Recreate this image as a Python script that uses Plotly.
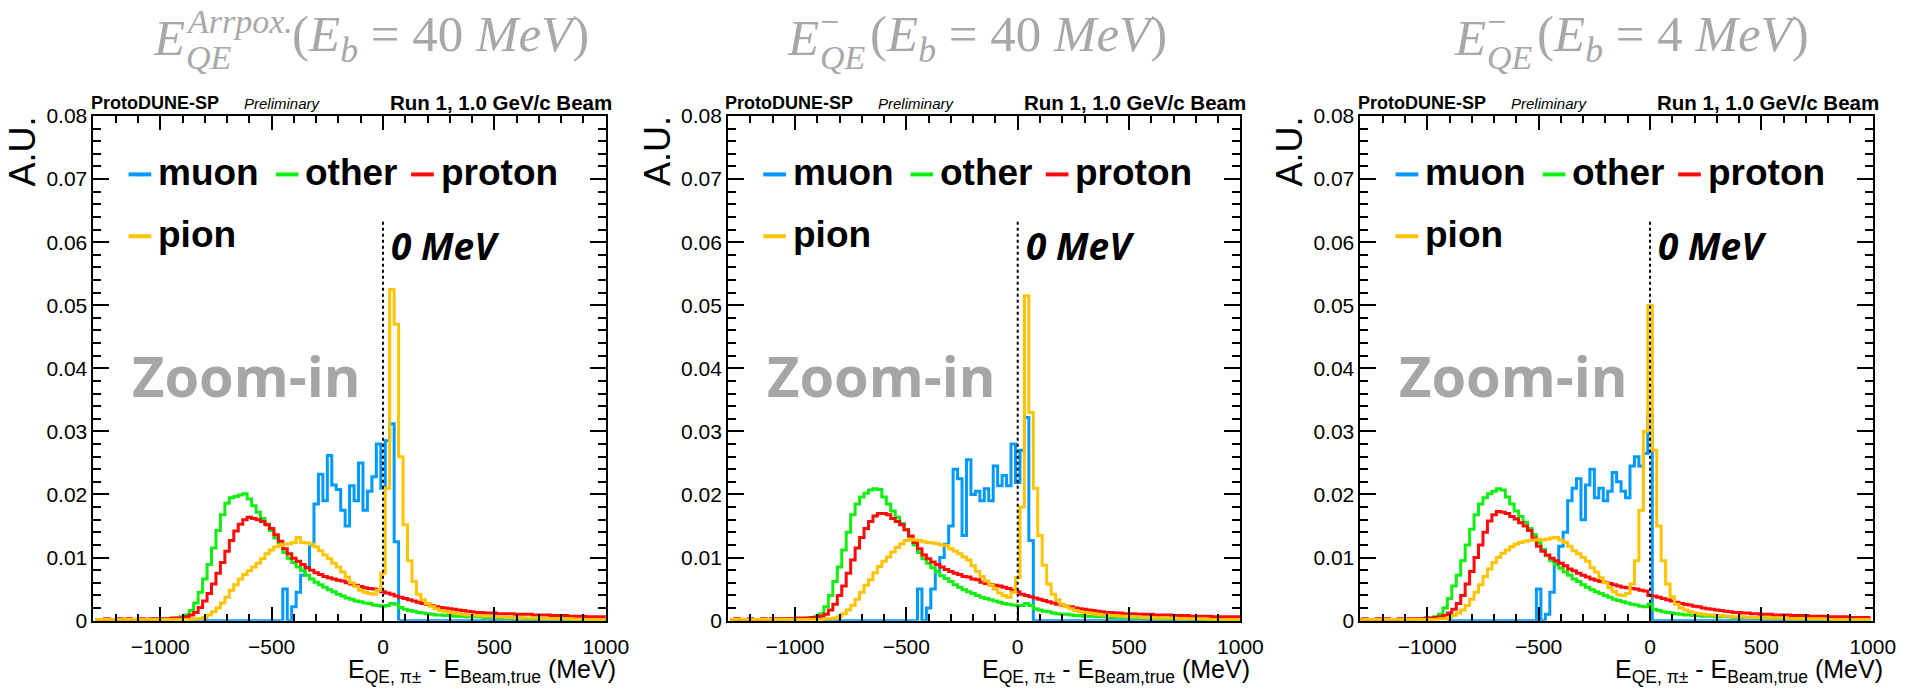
import plotly.graph_objects as go

# ---------------- data (20 MeV bins) ----------------
BIN_WIDTH = 20
N_BINS = 115
bin_starts = [-1290, -1290, -1310]          # left edge of first bin, per panel
X_RANGE = [-1300, 1000]
Y_RANGE = [0, 0.08]
ZERO_LINE_TOP = 0.0636

series_names = ["muon", "other", "proton", "pion"]
series_colors = {"muon": "#0099ff", "other": "#11ee11", "proton": "#ff0a0a", "pion": "#ffc400"}

N = None
# ---- panel 1 : E_QE^Approx (Eb = 40 MeV)
p1_muon = ([N] * 10 + [N] * 10 +
           [N, 0, 0, 0, 0, 0, 0, 0, 0, 0] +
           [0] * 10 +
           [0, 0, .0050, 0, .0022, .0045, .0072, .0085, .0120, .0185] +
           [.0232, .0190, .0262, .0215, .0208, .0175, .0150, .0214, .0190, .0250] +
           [.0175, .0205, .0228, .0280, .0210, .0285, .0312, .0125, 0, 0] +
           [0] * 10 + [0] * 10 + [0] * 10 + [0] * 10 + [0] * 5)
p1_other = ([.0002] * 10 +
            [.0002, .0002, .0002, .0003, .0003, .0003, .0003, .0003, .0004, .0006] +
            [.0009, .0016, .0028, .0045, .0066, .0089, .0115, .0143, .0168, .0186] +
            [.0195, .0197, .0199, .0201, .0193, .0182, .0172, .0162, .0153, .0143] +
            [.0131, .0120, .0108, .0099, .0092, .0085, .0079, .0072, .0066, .0061] +
            [.0057, .0053, .0049, .0046, .0042, .0039, .0036, .0034, .0031, .0030] +
            [.0028, .0027, .0025, .0024, .0023, .0024, .0027, .0026, .0021, .0018] +
            [.0016, .0015, .0013, .0012, .0011, .0010, .0009, .0009, .0008, .0008] +
            [.0007, .0007, .0007, .0006, .0006, .0006, .0006, .0005, .0005, .0005] +
            [.0005, .0004, .0004, .0004, .0004, .0004, .0003, .0003, .0003, .0003] +
            [.0003, .0003, .0003, .0003, .0003, .0003, .0002, .0002, .0002, .0002] +
            [.0002] * 5)
p1_proton = ([.0002, .0002, .0003, .0002, .0002, .0003, .0002, .0003, .0002, .0002] +
             [.0003, .0002, .0003, .0003, .0003, .0003, .0003, .0004, .0004, .0004] +
             [.0006, .0009, .0013, .0021, .0031, .0043, .0058, .0075, .0092, .0110] +
             [.0127, .0142, .0153, .0160, .0164, .0162, .0160, .0157, .0152, .0146] +
             [.0136, .0126, .0114, .0106, .0099, .0094, .0089, .0084, .0080, .0076] +
             [.0073, .0070, .0068, .0066, .0064, .0063, .0060, .0058, .0056, .0054] +
             [.0052, .0051, .0050, .0048, .0046, .0044, .0042, .0039, .0037, .0035] +
             [.0033, .0031, .0029, .0027, .0026, .0024, .0022, .0021, .0020, .0019] +
             [.0018, .0017, .0016, .0015, .0014, .0013, .0013, .0012, .0012, .0012] +
             [.0011, .0011, .0011, .0011, .0010, .0010, .0010, .0010, .0009, .0009] +
             [.0009, .0009, .0008, .0008, .0008, .0008, .0007, .0007, .0007, .0007] +
             [.0006] * 5)
p1_pion = ([.0002] * 10 + [.0002] * 10 +
           [.0002, .0002, .0003, .0003, .0005, .0009, .0014, .0020, .0028, .0037] +
           [.0048, .0057, .0066, .0073, .0079, .0085, .0091, .0098, .0106, .0112] +
           [.0117, .0119, .0121, .0122, .0124, .0132, .0124, .0123, .0121, .0117] +
           [.0111, .0104, .0098, .0091, .0085, .0077, .0069, .0060, .0054, .0048] +
           [.0045, .0043, .0042, .0048, .0075, .0210, .0525, .0470, .0260, .0152] +
           [.0095, .0062, .0042, .0033, .0027, .0023, .0019, .0016, .0015, .0013] +
           [.0012, .0011, .0010, .0009, .0009, .0008, .0008, .0007, .0007, .0006] +
           [.0006, .0006, .0005, .0005, .0005, .0004, .0004, .0004, .0004, .0004] +
           [.0003] * 7 + [.0002] * 3 +
           [.0002] * 5)

# ---- panel 2 : E_QE^- (Eb = 40 MeV)
p2_muon = ([N] * 10 + [N] * 10 +
           [N, 0, 0, 0, 0, 0, 0, 0, 0, 0] +
           [0] * 10 +
           [0, 0, .0050, 0, .0020, .0050, .0078, .0100, .0121, .0150] +
           [.0240, .0225, .0135, .0255, .0200, .0205, .0190, .0209, .0190, .0245] +
           [.0214, .0230, .0214, .0280, .0219, .0270, .0322, .0127, 0, 0] +
           [0] * 10 + [0] * 10 + [0] * 10 + [0] * 10 + [0] * 5)
p2_other = ([.0002] * 10 +
            [.0002, .0002, .0002, .0003, .0003, .0003, .0003, .0004, .0005, .0007] +
            [.0011, .0022, .0040, .0062, .0085, .0112, .0140, .0168, .0185, .0196] +
            [.0202, .0207, .0209, .0208, .0196, .0185, .0174, .0164, .0154, .0144] +
            [.0133, .0120, .0108, .0098, .0091, .0084, .0077, .0071, .0067, .0062] +
            [.0057, .0053, .0049, .0046, .0043, .0040, .0037, .0035, .0033, .0031] +
            [.0029, .0027, .0026, .0025, .0024, .0024, .0027, .0024, .0019, .0017] +
            [.0015, .0014, .0012, .0011, .0010, .0010, .0009, .0008, .0008, .0007] +
            [.0007, .0007, .0006, .0006, .0006, .0005, .0005, .0005, .0005, .0005] +
            [.0004] * 6 + [.0003] * 4 +
            [.0003] * 6 + [.0002] * 4 +
            [.0002] * 5)
p2_proton = ([.0002, .0003, .0002, .0002, .0003, .0002, .0002, .0003, .0002, .0003] +
             [.0003, .0003, .0003, .0003, .0003, .0004, .0004, .0004, .0005, .0005] +
             [.0007, .0010, .0017, .0026, .0040, .0055, .0075, .0096, .0115, .0132] +
             [.0146, .0157, .0166, .0170, .0170, .0168, .0162, .0157, .0152, .0144] +
             [.0134, .0124, .0114, .0104, .0098, .0093, .0089, .0085, .0081, .0078] +
             [.0075, .0073, .0070, .0069, .0066, .0065, .0061, .0059, .0057, .0056] +
             [.0055, .0053, .0051, .0048, .0046, .0042, .0040, .0038, .0036, .0034] +
             [.0032, .0030, .0028, .0026, .0025, .0023, .0022, .0020, .0019, .0018] +
             [.0017, .0016, .0015, .0014, .0013, .0013, .0012, .0012, .0011, .0011] +
             [.0011, .0010, .0010, .0010, .0010, .0009, .0009, .0009, .0009, .0008] +
             [.0008, .0008, .0008, .0007, .0007, .0007, .0007, .0007, .0006, .0006] +
             [.0006] * 5)
p2_pion = ([.0002] * 10 + [.0002] * 10 +
           [.0002, .0003, .0003, .0004, .0006, .0011, .0017, .0024, .0034, .0045] +
           [.0056, .0065, .0076, .0086, .0094, .0101, .0109, .0116, .0122, .0127] +
           [.0129, .0128, .0127, .0125, .0124, .0123, .0122, .0120, .0119, .0114] +
           [.0110, .0106, .0101, .0096, .0087, .0078, .0070, .0063, .0056, .0050] +
           [.0044, .0040, .0037, .0045, .0068, .0180, .0515, .0330, .0210, .0135] +
           [.0088, .0058, .0042, .0033, .0026, .0022, .0019, .0016, .0014, .0013] +
           [.0012, .0011, .0010, .0009, .0009, .0008, .0008, .0007, .0007, .0006] +
           [.0006, .0006, .0005, .0005, .0005, .0004, .0004, .0004, .0004, .0004] +
           [.0003] * 7 + [.0002] * 3 +
           [.0002] * 5)

# ---- panel 3 : E_QE^- (Eb = 4 MeV)
p3_muon = ([N] * 10 + [N] * 10 +
           [0] * 10 +
           [0] * 10 +
           [.0050, 0, .0010, .0045, .0090, .0118, .0140, .0190, .0210, .0225] +
           [.0160, .0215, .0240, .0195, .0210, .0190, .0205, .0235, .0220, .0205] +
           [.0195, .0245, .0260, .0245, .0265, .0325, 0, 0, 0, 0] +
           [0] * 10 + [0] * 10 + [0] * 10 + [0] * 10 + [0] * 5)
p3_other = ([.0002] * 10 +
            [.0002, .0002, .0002, .0003, .0003, .0003, .0004, .0006, .0010, .0020] +
            [.0035, .0055, .0072, .0095, .0120, .0145, .0168, .0185, .0195, .0201] +
            [.0205, .0209, .0207, .0196, .0185, .0174, .0165, .0156, .0146, .0136] +
            [.0124, .0113, .0103, .0095, .0089, .0083, .0077, .0072, .0066, .0062] +
            [.0057, .0053, .0049, .0046, .0043, .0040, .0037, .0034, .0032, .0030] +
            [.0028, .0026, .0025, .0023, .0022, .0026, .0018, .0016, .0014, .0013] +
            [.0012, .0011, .0010, .0009, .0009, .0008, .0008, .0007, .0007, .0007] +
            [.0006, .0006, .0006, .0006, .0005, .0005, .0005, .0005, .0005, .0004] +
            [.0004] * 6 + [.0003] * 4 +
            [.0003] * 5 + [.0002] * 5 +
            [.0002] * 5)
p3_proton = ([.0002, .0003, .0002, .0002, .0003, .0002, .0003, .0002, .0002, .0003] +
             [.0003, .0003, .0003, .0003, .0003, .0004, .0004, .0005, .0006, .0008] +
             [.0012, .0018, .0027, .0040, .0058, .0078, .0100, .0120, .0140, .0158] +
             [.0168, .0173, .0172, .0170, .0165, .0161, .0155, .0150, .0143, .0131] +
             [.0118, .0110, .0104, .0099, .0095, .0091, .0087, .0082, .0079, .0075] +
             [.0072, .0069, .0066, .0064, .0062, .0061, .0059, .0057, .0055, .0053] +
             [.0052, .0051, .0050, .0048, .0047, .0040, .0039, .0037, .0035, .0033] +
             [.0031, .0029, .0027, .0026, .0025, .0023, .0022, .0020, .0019, .0018] +
             [.0017, .0016, .0015, .0014, .0013, .0013, .0012, .0012, .0011, .0011] +
             [.0010, .0010, .0010, .0009, .0009, .0009, .0009, .0008, .0008, .0008] +
             [.0008, .0007, .0007, .0007, .0007, .0006, .0006, .0006, .0006, .0006] +
             [.0005] * 5)
p3_pion = ([.0002] * 10 +
           [.0002] * 8 + [.0003, .0003] +
           [.0005, .0008, .0012, .0017, .0024, .0034, .0045, .0057, .0070, .0082] +
           [.0092, .0100, .0107, .0112, .0117, .0121, .0124, .0126, .0127, .0128] +
           [.0129, .0128, .0129, .0131, .0132, .0128, .0124, .0118, .0111, .0106] +
           [.0100, .0094, .0084, .0077, .0068, .0060, .0052, .0046, .0041, .0040] +
           [.0043, .0058, .0095, .0175, .0300, .0500, .0270, .0150, .0095, .0058] +
           [.0038, .0026, .0020, .0017, .0014, .0012, .0011, .0010, .0009, .0009] +
           [.0008, .0008, .0007, .0007, .0006, .0006, .0006, .0005, .0005, .0005] +
           [.0005, .0004, .0004, .0004, .0004, .0004, .0003, .0003, .0003, .0003] +
           [.0003] * 5 + [.0002] * 5 +
           [.0002] * 5)

panels = [
    {"muon": p1_muon, "other": p1_other, "proton": p1_proton, "pion": p1_pion},
    {"muon": p2_muon, "other": p2_other, "proton": p2_proton, "pion": p2_pion},
    {"muon": p3_muon, "other": p3_other, "proton": p3_proton, "pion": p3_pion},
]

x_tick_vals = [-1000, -500, 0, 500, 1000]
header_left = "ProtoDUNE-SP"
header_prelim = "Preliminary"
header_right = "Run 1, 1.0 GeV/c Beam"
eb_values = ["40", "40", "4"]

# ---------------- layout helpers ----------------
W, H = 1917, 691
panel_left_px = [94.6, 737.0, 1377.0]
panel_w_px = 518.5
plot_top_px, plot_bot_px = 107.6, 629.6


def px(x):
    return x / W


def py(y):
    return 1 - y / H


fig = go.Figure()
for pi, pdata in enumerate(panels):
    xa = "x" if pi == 0 else f"x{pi + 1}"
    ya = "y" if pi == 0 else f"y{pi + 1}"
    edges = [bin_starts[pi] + BIN_WIDTH * i for i in range(N_BINS + 1)]
    for name in series_names:
        vals = pdata[name]
        assert len(vals) == N_BINS, (pi, name, len(vals))
        ys = list(vals) + [vals[-1]]
        fig.add_trace(go.Scatter(x=edges, y=ys, mode="lines", line_shape="hv",
                                 line=dict(color=series_colors[name], width=3),
                                 xaxis=xa, yaxis=ya, showlegend=False,
                                 connectgaps=False, hoverinfo="skip", cliponaxis=True))

axis_common = dict(showline=True, linecolor="black", linewidth=2, mirror="allticks",
                   ticks="inside", tickcolor="black", tickwidth=2, showgrid=False,
                   zeroline=False, tickfont=dict(family="Liberation Sans", size=21, color="black"))
layout = dict(width=W, height=H, margin=dict(l=0, r=0, t=0, b=0),
              paper_bgcolor="white", plot_bgcolor="white", showlegend=False)
for pi in range(3):
    sfx = "" if pi == 0 else str(pi + 1)
    l = panel_left_px[pi]
    layout["xaxis" + sfx] = dict(domain=[px(l), px(l + panel_w_px)], range=X_RANGE,
                                 anchor="y" + sfx, tickvals=x_tick_vals, ticklen=14,
                                 ticklabelstandoff=6,
                                 minor=dict(ticks="inside", ticklen=7, dtick=100, tick0=0,
                                            tickcolor="black", tickwidth=2),
                                 **axis_common)
    layout["yaxis" + sfx] = dict(domain=[py(plot_bot_px), py(plot_top_px)], range=Y_RANGE,
                                 anchor="x" + sfx, dtick=0.01, tick0=0, ticklen=16,
                                 minor=dict(ticks="inside", ticklen=8, dtick=0.002, tick0=0,
                                            tickcolor="black", tickwidth=2),
                                 **axis_common)
fig.update_layout(**layout)

shapes = []
annotations = []
GREY = "#a8a8a8"
SERIF = "Liberation Serif"
SANS = "Liberation Sans"
for pi in range(3):
    sfx = "" if pi == 0 else str(pi + 1)
    xa, ya = "x" + sfx, "y" + sfx
    l = panel_left_px[pi]
    r = l + panel_w_px
    # dotted zero line
    shapes.append(dict(type="line", xref=xa, yref=ya, x0=0, x1=0, y0=0, y1=ZERO_LINE_TOP,
                       line=dict(color="black", width=2, dash="dot"), layer="above"))
    # 0 MeV label
    annotations.append(dict(xref="paper", yref="paper", x=px(l + 299), y=py(242),
                            xanchor="left", yanchor="middle", showarrow=False,
                            text="<b><i>0 MeV</i></b>",
                            font=dict(family="Open Sans", size=37, color="black")))
    # Zoom-in
    annotations.append(dict(xref="paper", yref="paper", x=px(l + 37), y=py(376),
                            xanchor="left", yanchor="middle", showarrow=False,
                            text="<b>Zoom-in</b>",
                            font=dict(family="Open Sans", size=56, color="#a6a6a6")))
    # headers
    annotations.append(dict(xref="paper", yref="paper", x=px(l - 5), y=py(94),
                            xanchor="left", yanchor="middle", showarrow=False,
                            text="<b>" + header_left + "</b>",
                            font=dict(family=SANS, size=18, color="black")))
    annotations.append(dict(xref="paper", yref="paper", x=px(l + 150), y=py(95),
                            xanchor="left", yanchor="middle", showarrow=False,
                            text="<i>" + header_prelim + "</i>",
                            font=dict(family=SANS, size=15, color="black")))
    annotations.append(dict(xref="paper", yref="paper", x=px(r + 8), y=py(94),
                            xanchor="right", yanchor="middle", showarrow=False,
                            text="<b>" + header_right + "</b>",
                            font=dict(family=SANS, size=20.5, color="black")))
    # y title
    annotations.append(dict(xref="paper", yref="paper", x=px(l - 72), y=py(plot_top_px - 2),
                            xanchor="center", yanchor="top", showarrow=False, textangle=-90,
                            text="A.U.", font=dict(family=SANS, size=36, color="black")))
    # x title
    annotations.append(dict(xref="paper", yref="paper", x=px(r + 12), y=py(682),
                            xanchor="right", yanchor="middle", showarrow=False,
                            text="E<sub>QE, π±</sub> - E<sub>Beam,true</sub> (MeV)",
                            font=dict(family=SANS, size=25, color="black")))
    # legend
    rows = [(166, [("muon", 35.5), ("other", 184.5), ("proton", 321.5)]),
            (230, [("pion", 35.5)])]
    for yrow, items in rows:
        for name, off in items:
            shapes.append(dict(type="line", xref="paper", yref="paper",
                               x0=px(l + off), x1=px(l + off + 23), y0=py(yrow + 2), y1=py(yrow + 2),
                               line=dict(color=series_colors[name], width=4)))
            annotations.append(dict(xref="paper", yref="paper", x=px(l + off + 28), y=py(yrow),
                                    xanchor="left", yanchor="middle", showarrow=False,
                                    text="<b>" + name + "</b>",
                                    font=dict(family=SANS, size=37, color="black")))

# titles (E with stacked super/subscripts, then the bracket)
tfont = dict(family=SERIF, size=51, color=GREY)
sfont = dict(family=SERIF, size=34, color=GREY)
title_left_px = [153, 795, 1470]
for pi in range(3):
    base = title_left_px[pi]
    annotations.append(dict(xref="paper", yref="paper", x=px(base), y=py(27), xanchor="left",
                            yanchor="middle", showarrow=False, text="<i>E</i>", font=tfont))
    sup = "<i>Arrpox.</i>" if pi == 0 else "−"
    annotations.append(dict(xref="paper", yref="paper", x=px(base + 33), y=py(10), xanchor="left",
                            yanchor="middle", showarrow=False, text=sup, font=sfont))
    annotations.append(dict(xref="paper", yref="paper", x=px(base + 33), y=py(47), xanchor="left",
                            yanchor="middle", showarrow=False, text="<i>QE</i>", font=sfont))
    rest_x = base + (141 if pi == 0 else 84)
    annotations.append(dict(xref="paper", yref="paper", x=px(rest_x), y=py(27), xanchor="left",
                            yanchor="middle", showarrow=False,
                            text="(<i>E<sub>b</sub></i> = " + eb_values[pi] + " <i>MeV</i>)",
                            font=tfont))

fig.update_layout(shapes=shapes, annotations=annotations)
fig.write_html("out.html")
